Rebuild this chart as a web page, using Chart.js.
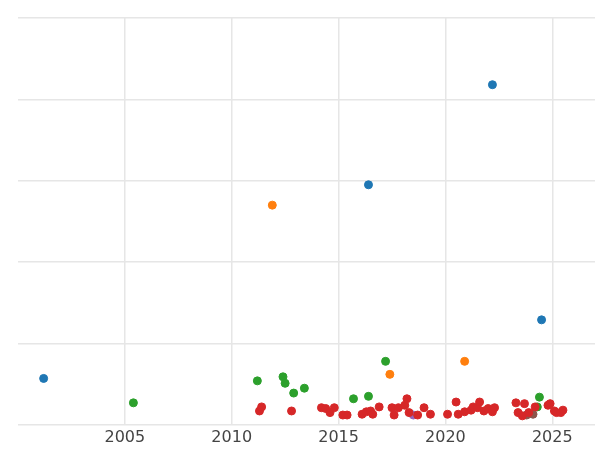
<!DOCTYPE html>
<html><head><meta charset="utf-8">
<script src="https://cdn.jsdelivr.net/npm/chart.js@4"></script>
<style>html,body{margin:0;background:#fff}#w{width:600px;height:450px}</style>
</head><body><div id="w"><canvas id="c"></canvas></div>
<script>
const blueX=[2001.2,2016.4,2022.2,2024.5];
const blueY=[0.57,2.95,4.18,1.29];
const orangeX=[2011.9,2017.4,2020.9];
const orangeY=[2.70,0.62,0.78];
const greenX=[2005.4,2011.2,2012.4,2012.5,2012.9,2013.4,2015.7,2016.4,2017.2,2024.4,2024.3];
const greenY=[0.27,0.54,0.59,0.51,0.39,0.45,0.32,0.35,0.78,0.34,0.22];
const purpleX=[2018.5];
const purpleY=[0.12];
const brownX=[2023.8,2024.1];
const brownY=[0.12,0.13];
const redX=[2011.3,2011.4,2012.8,2014.2,2014.4,2014.6,2014.8,2015.2,2015.4,2016.1,2016.3,2016.5,2016.6,2016.9,2017.5,2017.6,2017.8,2018.1,2018.2,2018.3,2018.7,2019.0,2019.3,2020.1,2020.5,2020.6,2020.9,2021.2,2021.3,2021.5,2021.6,2021.8,2022.0,2022.2,2022.3,2023.3,2023.4,2023.6,2023.7,2023.9,2024.2,2024.8,2024.9,2025.1,2025.2,2025.4,2025.5];
const redY=[0.17,0.22,0.17,0.21,0.20,0.15,0.21,0.12,0.12,0.13,0.16,0.17,0.13,0.22,0.21,0.12,0.21,0.24,0.32,0.15,0.12,0.21,0.13,0.13,0.28,0.13,0.16,0.18,0.22,0.21,0.28,0.17,0.20,0.16,0.21,0.27,0.15,0.11,0.26,0.15,0.22,0.24,0.26,0.17,0.15,0.15,0.18];
const xTicks=[2005,2010,2015,2020,2025];
const pts=(xs,ys)=>xs.map((x,i)=>({x,y:ys[i]}));
const ds=(xs,ys,c)=>({data:pts(xs,ys),backgroundColor:c,borderColor:c,pointRadius:4,pointHoverRadius:4});
new Chart(document.getElementById('c'),{
type:'scatter',
data:{datasets:[
ds(redX,redY,'#d62728'),ds(greenX,greenY,'#2ca02c'),ds(blueX,blueY,'#1f77b4'),
ds(orangeX,orangeY,'#ff7f0e'),ds(purpleX,purpleY,'#9467bd'),ds(brownX,brownY,'#8c564b')]},
options:{responsive:true,maintainAspectRatio:false,animation:false,
layout:{padding:{left:18,top:18,right:0,bottom:0}},
plugins:{legend:{display:false},tooltip:{enabled:false}},
scales:{
x:{type:'linear',min:2000,max:2027,
 afterBuildTicks:a=>{a.ticks=xTicks.map(v=>({value:v}));},
 ticks:{callback:v=>String(v),color:'#444',font:{family:'DejaVu Sans',size:16}},
 grid:{color:'#e6e6e6',lineWidth:1.5,drawTicks:false},border:{display:false}},
y:{min:0,max:5,ticks:{display:false,stepSize:1},
 grid:{color:'#e6e6e6',lineWidth:1.5,drawTicks:false},border:{display:false}}
}}});
</script></body></html>
